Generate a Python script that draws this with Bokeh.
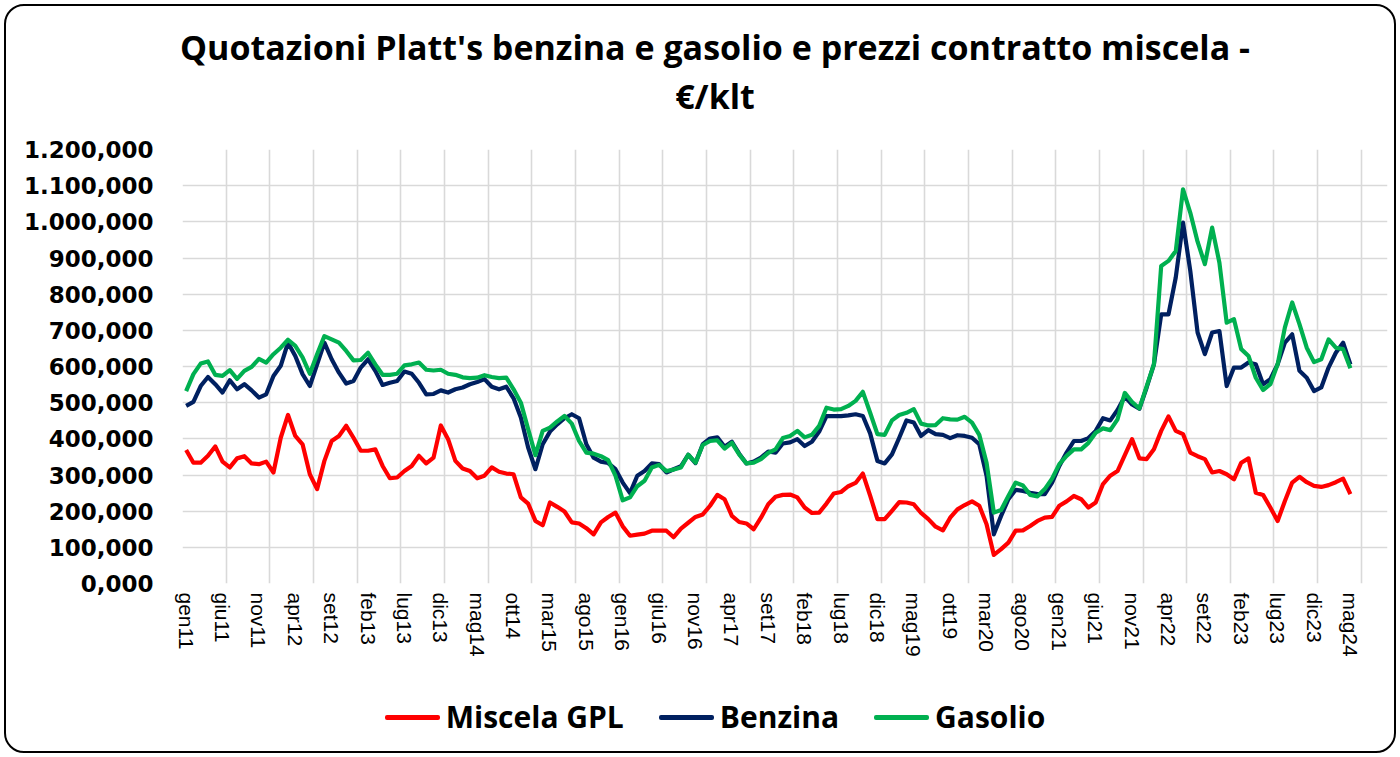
from bokeh.plotting import figure
from bokeh.layouts import column
from bokeh.models import FixedTicker, Range1d, Div
from bokeh.embed import file_html
from bokeh.resources import INLINE

# ---------------- data (€/klt), monthly gen 2011 .. mag 2024 ----------------
month_abbr = ["gen", "feb", "mar", "apr", "mag", "giu", "lug", "ago", "set", "ott", "nov", "dic"]
years = ["11", "12", "13", "14", "15", "16", "17", "18", "19", "20", "21", "22", "23", "24"]
categories = [m + y for y in years for m in month_abbr][:161]

miscela_gpl = [
    369, 334, 334, 353, 379, 337, 321, 346, 352, 332, 330, 337,
    307, 403, 466, 408, 385, 302, 261, 339, 394, 408, 436, 403,
    367, 367, 371, 325, 291, 293, 311, 325, 353, 332, 348, 437,
    399, 339, 318, 311, 291, 298, 321, 309, 304, 302, 238, 221,
    173, 161, 224, 212, 199, 169, 166, 153, 136, 169, 184, 196,
    158, 132, 135, 138, 146, 146, 146, 128, 152, 168, 184, 191,
    215, 245, 233, 187, 170, 166, 150, 182, 219, 240, 245, 246,
    238, 210, 195, 196, 221, 249, 253, 269, 278, 304, 243, 178,
    178, 201, 225, 224, 219, 195, 178, 157, 147, 182, 205, 217,
    227, 215, 164, 79, 95, 113, 146, 147, 159, 173, 182, 184,
    215, 227, 242, 233, 210, 224, 275, 298, 311, 355, 399, 346,
    344, 371, 422, 462, 422, 413, 362, 352, 344, 307, 311, 302,
    288, 334, 346, 251, 245, 210, 173, 228, 279, 295, 280, 270,
    267, 272, 280, 290, 247,
]

benzina = [
    491, 502, 546, 571, 551, 528, 562, 537, 551, 534, 514, 523,
    574, 602, 666, 629, 579, 546, 606, 666, 620, 583, 553, 560,
    597, 620, 588, 549, 555, 560, 586, 580, 555, 523, 524, 534,
    528, 537, 542, 551, 557, 565, 544, 537, 544, 512, 459, 376,
    316, 385, 420, 440, 457, 468, 457, 385, 348, 337, 333, 316,
    279, 250, 298, 311, 332, 330, 307, 316, 324, 356, 333, 385,
    401, 404, 378, 392, 359, 332, 337, 348, 365, 362, 387, 390,
    399, 380, 392, 420, 463, 463, 463, 465, 468, 463, 415, 339,
    332, 357, 403, 451, 445, 408, 424, 413, 411, 402, 410, 408,
    403, 385, 298, 136, 187, 233, 259, 256, 251, 247, 247, 279,
    325, 362, 394, 394, 402, 422, 457, 451, 480, 517, 495, 483,
    542, 606, 744, 744, 846, 998, 864, 694, 634, 694, 698, 546,
    597, 597, 611, 606, 551, 565, 606, 666, 689, 588, 569, 532,
    542, 597, 638, 666, 606,
]

gasolio = [
    532, 579, 608, 614, 577, 574, 590, 566, 588, 599, 621, 611,
    634, 652, 674, 657, 625, 580, 634, 684, 675, 666, 643, 617,
    618, 638, 606, 577, 577, 580, 603, 606, 611, 591, 589, 591,
    580, 577, 570, 568, 569, 576, 571, 568, 569, 537, 500, 427,
    355, 422, 431, 448, 463, 442, 394, 362, 359, 352, 341, 298,
    230, 238, 269, 284, 321, 328, 311, 315, 321, 356, 334, 383,
    394, 396, 373, 389, 357, 332, 334, 344, 361, 371, 402, 408,
    422, 404, 411, 436, 486, 481, 482, 491, 505, 530, 472, 413,
    411, 451, 466, 472, 482, 442, 437, 438, 457, 454, 453, 461,
    445, 411, 334, 196, 203, 242, 279, 271, 245, 241, 261, 290,
    330, 353, 371, 371, 389, 417, 429, 424, 454, 527, 502, 484,
    545, 606, 878, 892, 919, 1090, 1025, 945, 883, 984, 887, 721,
    731, 648, 629, 569, 535, 551, 606, 708, 777, 717, 652, 612,
    620, 675, 652, 648, 595,
]

x_tick_labels = ["gen11", "giu11", "nov11", "apr12", "set12", "feb13", "lug13", "dic13",
                 "mag14", "ott14", "mar15", "ago15", "gen16", "giu16", "nov16", "apr17",
                 "set17", "feb18", "lug18", "dic18", "mag19", "ott19", "mar20", "ago20",
                 "gen21", "giu21", "nov21", "apr22", "set22", "feb23", "lug23", "dic23", "mag24"]

y_ticks = [0, 100, 200, 300, 400, 500, 600, 700, 800, 900, 1000, 1100, 1200]
y_tick_labels = ["0,000", "100,000", "200,000", "300,000", "400,000", "500,000", "600,000",
                 "700,000", "800,000", "900,000", "1.000,000", "1.100,000", "1.200,000"]

series_names = ["Miscela GPL", "Benzina", "Gasolio"]
series_colors = ["#FF0000", "#002060", "#00B050"]

title_line1 = "Quotazioni Platt's benzina e gasolio e prezzi contratto miscela -"
title_line2 = "€/klt"

# ---------------- layout sizes ----------------
TITLE_H = 125
LEGEND_H = 67
FIG_H = 757 - TITLE_H - LEGEND_H
FRAME_TOP = 149 - TITLE_H

# ---------------- title block ----------------
title_div = Div(
    text=('<div style="box-sizing:border-box;width:1400px;padding-left:30px;padding-top:23px;'
          'text-align:center;font-family:\'Open Sans\',sans-serif;font-weight:bold;font-size:34px;'
          'line-height:49px;color:#000;white-space:nowrap">'
          + title_line1 + '<br>' + title_line2 + '</div>'),
    width=1400, height=TITLE_H, margin=0)

# ---------------- figure ----------------
x_idx = list(range(len(categories)))
x_tick_pos = [categories.index(lbl) for lbl in x_tick_labels]

p = figure(width=1400, height=FIG_H, output_backend="svg", toolbar_location=None,
           x_range=Range1d(-0.5, 165.1), y_range=Range1d(0, 1200),
           min_border_left=182, min_border_right=13, min_border_top=FRAME_TOP,
           min_border_bottom=FIG_H - FRAME_TOP - 434, margin=0)
p.outline_line_color = None
p.background_fill_alpha = 0
p.border_fill_alpha = 0

grid_color = "#D9D9D9"
p.xgrid.ticker = FixedTicker(ticks=[-0.5 + 6 * k for k in range(28)])
p.xgrid.grid_line_color = grid_color
p.xgrid.grid_line_width = 1.6
p.ygrid.grid_line_color = grid_color
p.ygrid.grid_line_width = 1.6

p.yaxis.ticker = FixedTicker(ticks=y_ticks)
p.yaxis.major_label_overrides = dict(zip(y_ticks, y_tick_labels))
p.yaxis.axis_line_color = None
p.yaxis.major_tick_line_color = None
p.yaxis.minor_tick_line_color = None
p.yaxis.major_tick_out = 0
p.yaxis.major_label_standoff = 29
p.yaxis.major_label_text_font = "DejaVu Sans"
p.yaxis.major_label_text_font_style = "bold"
p.yaxis.major_label_text_font_size = "23px"
p.yaxis.major_label_text_color = "black"

p.xaxis.ticker = FixedTicker(ticks=x_tick_pos)
p.xaxis.major_label_overrides = dict(zip(x_tick_pos, x_tick_labels))
p.xaxis.major_label_orientation = "vertical"
p.xaxis.axis_line_color = None
p.xaxis.major_tick_line_color = None
p.xaxis.minor_tick_line_color = None
p.xaxis.major_tick_out = 0
p.xaxis.major_label_standoff = 9
p.xaxis.major_label_text_font = "Liberation Sans"
p.xaxis.major_label_text_font_size = "21px"
p.xaxis.major_label_text_color = "black"

for name, col, vals in zip(series_names, series_colors, [miscela_gpl, benzina, gasolio]):
    p.line(x=x_idx, y=vals, line_color=col, line_width=4.2, line_join="round", legend_label=name)
p.legend.visible = False  # legend is shown in the block below the chart

# ---------------- legend block ----------------
items_html = []
for k, (name, col) in enumerate(zip(series_names, series_colors)):
    gap = "0" if k == 0 else "35px"
    items_html.append(
        f'<span style="display:inline-block;width:55px;height:5px;background:{col};'
        f'margin-left:{gap};margin-right:6px;border-radius:2px"></span><span>{name}</span>')
legend_div = Div(
    text=('<div style="box-sizing:border-box;width:1400px;height:54px;padding-left:30px;'
          'display:flex;justify-content:center;align-items:center;'
          'font-family:\'Open Sans\',sans-serif;font-weight:bold;font-size:30px;line-height:30px;'
          'color:#000;white-space:nowrap">' + "".join(items_html) + '</div>'),
    width=1400, height=LEGEND_H, margin=0)

layout = column(title_div, p, legend_div, spacing=0, margin=0,
                styles={"outline": "2px solid black", "outline-offset": "-6px",
                        "border-radius": "24px"})

with open("out.html", "w", encoding="utf-8") as f:
    f.write(file_html(layout, INLINE))
